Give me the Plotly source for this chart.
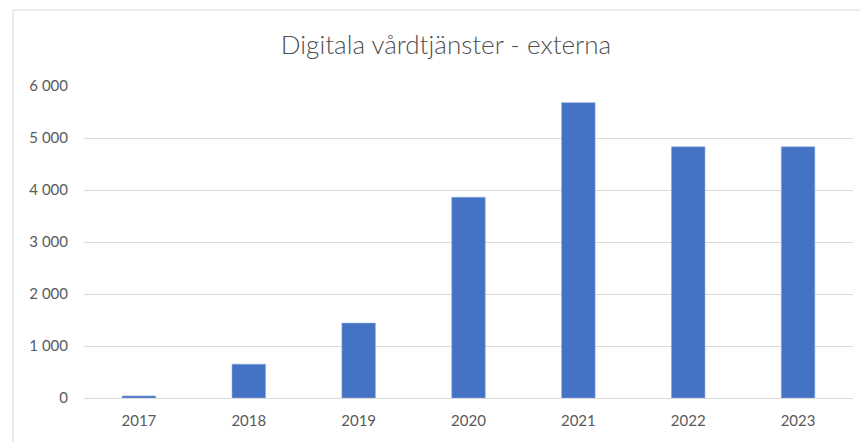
import plotly.graph_objects as go

years = ["2017", "2018", "2019", "2020", "2021", "2022", "2023"]
values = [40, 650, 1440, 3860, 5680, 4830, 4830]
y_ticks = [0, 1000, 2000, 3000, 4000, 5000, 6000]

W, H = 860, 442
ml, mr, mt, mb = 84, 7, 86, 44
pw = W - ml - mr
ph = H - mt - mb

fig = go.Figure(go.Bar(
    x=years, y=values,
    marker=dict(color="#4472C4", line=dict(color="#8FAADC", width=0.6)),
    hoverinfo="x+y",
))

fig.update_layout(
    width=W, height=H,
    margin=dict(l=ml, r=mr, t=mt, b=mb),
    paper_bgcolor="white", plot_bgcolor="white",
    separators=", ",
    bargap=0.695,
    showlegend=False,
    title=dict(text="Digitala vårdtjänster - externa", xref="container", x=446 / W,
               xanchor="center", y=1 - 45 / H, yanchor="middle",
               font=dict(family="Lato", size=26, color="#505050", weight=300)),
    font=dict(family="Lato", size=15, color="#595959"),
)
fig.update_yaxes(range=[0, 6000], tickvals=y_ticks, tickformat=",d",
                 showgrid=True, gridcolor="#D9D9D9", gridwidth=1,
                 zeroline=False, showline=False, ticks="", ticklabelstandoff=15,
                 fixedrange=True)
fig.update_xaxes(showgrid=False, showline=True, linecolor="#D9D9D9", linewidth=1,
                 ticks="", ticklabelstandoff=9, fixedrange=True)

# outer chart border (Excel chart area), partially cropped at right/bottom
fig.add_shape(type="rect", xref="paper", yref="paper",
              x0=(13 - ml) / pw, x1=(W + 20 - ml) / pw,
              y0=-(mb + 20) / ph, y1=(H - 10 - mb) / ph,
              line=dict(color="#D9D9D9", width=1), fillcolor="rgba(0,0,0,0)", layer="below")

fig.write_html("out.html", config={"displayModeBar": False},
               post_script="document.body.style.margin='0px';document.body.style.overflow='hidden';")
